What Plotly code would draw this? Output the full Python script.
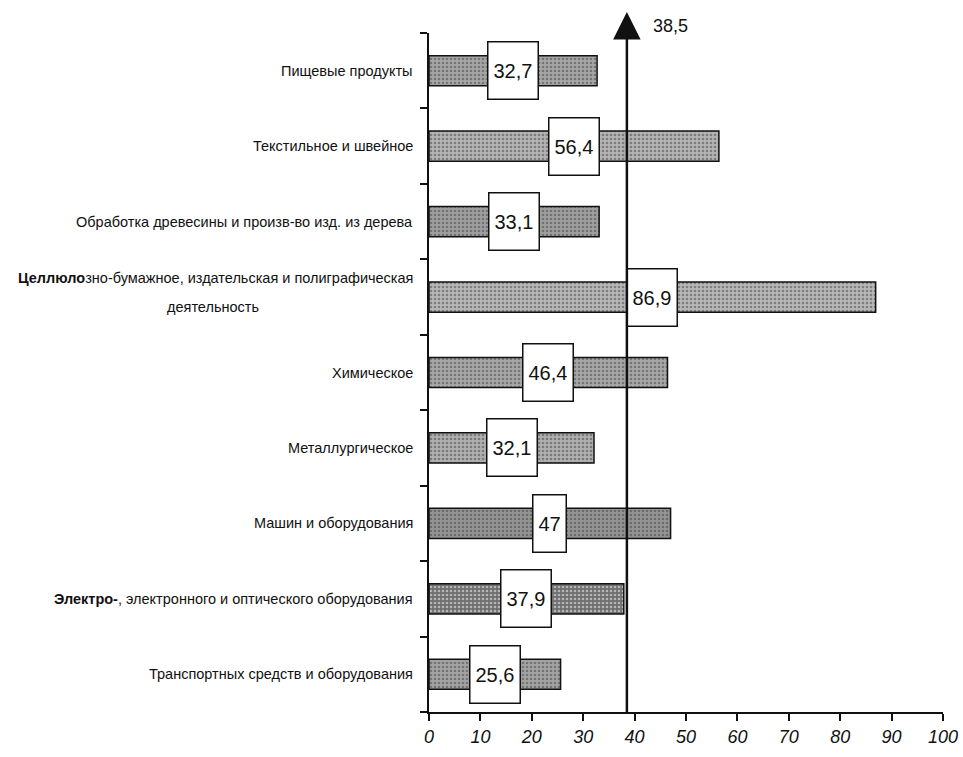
import plotly.graph_objects as go

categories = [
    "Пищевые продукты",
    "Текстильное и швейное",
    "Обработка древесины и произв-во изд. из дерева",
    "<b>Целлюло</b>зно-бумажное, издательская и полиграфическая<br>деятельность",
    "Химическое",
    "Металлургическое",
    "Машин и оборудования",
    "<b>Электро-</b>, электронного и оптического оборудования",
    "Транспортных средств и оборудования",
]
values = [32.7, 56.4, 33.1, 86.9, 46.4, 32.1, 47, 37.9, 25.6]
value_labels = ["32,7", "56,4", "33,1", "86,9", "46,4", "32,1", "47", "37,9", "25,6"]
bar_colors = ["#a6a6a6", "#b4b4b4", "#a0a0a0", "#b8b8b8", "#a8a8a8",
              "#b0b0b0", "#959595", "#6e6e6e", "#a4a4a4"]
average_value = 38.5
average_label = "38,5"
x_ticks = [0, 10, 20, 30, 40, 50, 60, 70, 80, 90, 100]

positions = list(range(len(categories)))

fig = go.Figure()
fig.add_trace(go.Bar(
    x=values, y=positions, orientation="h", width=0.4,
    marker=dict(
        color=bar_colors,
        line=dict(color="#111111", width=1.5),
        pattern=dict(shape=".", fgcolor="#5a5a5a", size=4, solidity=0.35),
    ),
    hoverinfo="skip", showlegend=False,
))

font_family = "Liberation Sans, Arial, sans-serif"

annotations = []
for p, cat in zip(positions, categories):
    lines = cat.split("<br>")
    n = len(lines)
    line_gap = 29
    for k, line in enumerate(lines):
        shift = 5 + ((n - 1) / 2 - k) * line_gap if n > 1 else 0
        annotations.append(dict(
            text=line, x=-0.027, xref="paper", y=p, yref="y", yshift=shift,
            xanchor="right" if k == 0 else "center", yanchor="middle", showarrow=False,
            font=dict(family=font_family, size=14.5, color="#111111"),
        ))
        if k > 0:
            annotations[-1]["x"] = -0.42
for p, v, lab in zip(positions, values, value_labels):
    annotations.append(dict(
        text=lab, x=v / 2, xref="x", y=p, yref="y",
        xanchor="center", yanchor="middle", showarrow=False,
        bgcolor="white", bordercolor="#111111", borderwidth=1.5, borderpad=5,
        height=46,
        font=dict(family=font_family, size=20, color="#111111"),
    ))
# average line with arrow
annotations.append(dict(
    text="", x=average_value, xref="x", y=1.031, yref="paper",
    ax=0, ay=702, axref="pixel", ayref="pixel",
    showarrow=True, arrowhead=2, arrowsize=2.2, arrowwidth=2.5, arrowcolor="#111111",
))
annotations.append(dict(
    text=average_label, x=average_value, xref="x", y=1.01, yref="paper",
    xshift=24, xanchor="left", yanchor="middle", showarrow=False,
    font=dict(family=font_family, size=18, color="#111111"),
))

fig.update_layout(
    width=963, height=757,
    margin=dict(l=429, r=20, t=33, b=45),
    paper_bgcolor="white", plot_bgcolor="white",
    bargap=0.6,
    annotations=annotations,
    xaxis=dict(
        range=[0, 100], tickvals=x_ticks, ticks="outside", ticklen=7, tickwidth=1.5,
        tickcolor="#111111", showline=True, linecolor="#111111", linewidth=1.5,
        showgrid=False, zeroline=False, automargin=False, ticklabelstandoff=1,
        tickfont=dict(family=font_family, size=18, color="#111111", style="italic"),
    ),
    yaxis=dict(
        range=[8.5, -0.5], tickvals=[i - 0.5 for i in range(len(categories) + 1)],
        showticklabels=False, ticks="outside", ticklen=7, tickwidth=1.5,
        tickcolor="#111111", showline=True, linecolor="#111111", linewidth=1.5,
        showgrid=False, zeroline=False, automargin=False,
    ),
)

fig.write_html("out.html", post_script="document.body.style.margin='0';",
               config={"displayModeBar": False})
